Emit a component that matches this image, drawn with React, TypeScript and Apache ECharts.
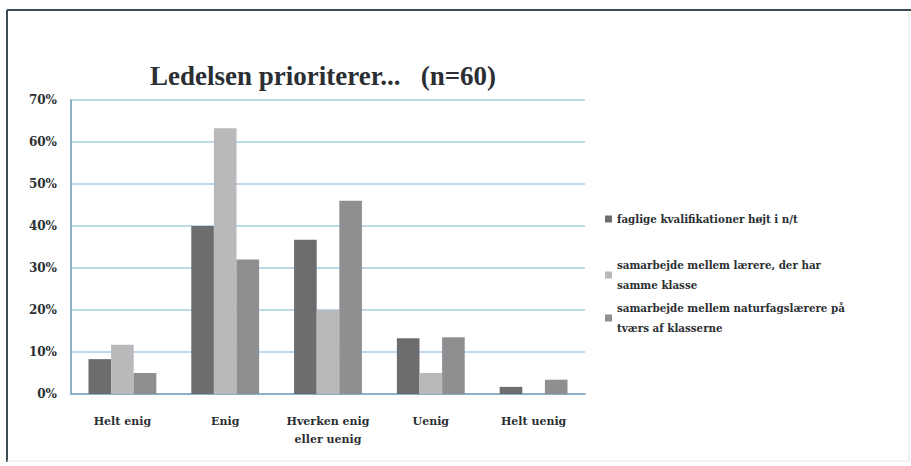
import React, { useEffect, useRef } from "react";
import * as echarts from "echarts";

const categories = ["Helt enig", "Enig", "Hverken enig eller uenig", "Uenig", "Helt uenig"];
const seriesNames = [
  "faglige kvalifikationer højt i n/t",
  "samarbejde mellem lærere, der har samme klasse",
  "samarbejde mellem naturfagslærere på tværs af klasserne",
];
const faglige = [8.3, 40.0, 36.7, 13.3, 1.7];
const samarbejdeKlasse = [11.7, 63.3, 20.0, 5.0, 0];
const samarbejdeTvaers = [5.0, 32.0, 46.0, 13.5, 3.4];
const yTicks = [0, 10, 20, 30, 40, 50, 60, 70];
const titleText = "Ledelsen prioriterer...   (n=60)";

const colors = ["#6d6d6f", "#b9b9bb", "#8f8f91"];
const TITLE_FONT = "'Liberation Serif', serif";
const FONT = "'DejaVu Serif', serif";
const TXT = "#2b2f33";

export default function App() {
  const ref = useRef<HTMLDivElement>(null);
  useEffect(() => {
    document.body.style.margin = "0";
    const chart = echarts.init(ref.current!, null, { renderer: "svg" });
    const wrapLegend: Record<string, string> = {
      [seriesNames[0]]: seriesNames[0],
      [seriesNames[1]]: "samarbejde mellem lærere, der har\nsamme klasse",
      [seriesNames[2]]: "samarbejde mellem naturfagslærere på\ntværs af klasserne",
    };
    const legendTops = [204, 240, 283];
    const data = [faglige, samarbejdeKlasse, samarbejdeTvaers];
    chart.setOption({
      animation: false,
      backgroundColor: "#ffffff",
      title: {
        text: titleText,
        left: 145,
        top: 57,
        textStyle: { fontFamily: TITLE_FONT, fontWeight: "bold", fontSize: 27, color: TXT },
      },
      legend: seriesNames.map((n, i) => ({
        data: [n],
        orient: "vertical",
        left: 600,
        top: legendTops[i],
        itemWidth: 7,
        itemHeight: 7,
        itemGap: 4,
        icon: "rect",
        formatter: (name: string) => wrapLegend[name],
        textStyle: {
          fontFamily: FONT,
          fontWeight: "bold",
          fontSize: 10.3,
          color: TXT,
          lineHeight: 20,
          padding: i === 0 ? 0 : [20, 0, 0, 0],
        },
      })),
      grid: { left: 71, right: 326, top: 100, bottom: 72, containLabel: false },
      xAxis: {
        type: "category",
        data: categories,
        axisLine: { lineStyle: { color: "#8eb0c6", width: 2 } },
        axisTick: { show: false },
        axisLabel: {
          fontFamily: FONT,
          fontWeight: "bold",
          fontSize: 11,
          color: TXT,
          margin: 18,
          lineHeight: 18,
          interval: 0,
          formatter: (v: string) => v.replace(" eller", "\neller"),
        },
      },
      yAxis: {
        type: "value",
        min: yTicks[0],
        max: yTicks[yTicks.length - 1],
        interval: 10,
        axisLine: { show: true, lineStyle: { color: "#8eb0c6", width: 2 } },
        axisTick: { show: false },
        splitLine: { lineStyle: { color: "#a8cde2", width: 1.5 } },
        axisLabel: {
          formatter: "{value}%",
          fontFamily: FONT,
          fontWeight: "bold",
          fontSize: 12,
          color: TXT,
          margin: 14,
        },
      },
      series: seriesNames.map((n, i) => ({
        name: n,
        type: "bar",
        data: data[i],
        barGap: "0%",
        barCategoryGap: "34%",
        itemStyle: { color: colors[i] },
      })),
      graphic: [
        { type: "line", shape: { x1: 7, y1: 10, x2: 911, y2: 10 }, style: { stroke: "#3e4c53", lineWidth: 2 } },
        { type: "line", shape: { x1: 7, y1: 10, x2: 7, y2: 462 }, style: { stroke: "#3e4c53", lineWidth: 2 } },
        { type: "line", shape: { x1: 909, y1: 11, x2: 909, y2: 462 }, style: { stroke: "#e6e2e0", lineWidth: 1 } },
        { type: "line", shape: { x1: 7, y1: 461, x2: 909, y2: 461 }, style: { stroke: "#ece6e2", lineWidth: 1 } },
      ],
    });
    return () => chart.dispose();
  }, []);
  return <div ref={ref} style={{ width: 911, height: 466 }} />;
}
